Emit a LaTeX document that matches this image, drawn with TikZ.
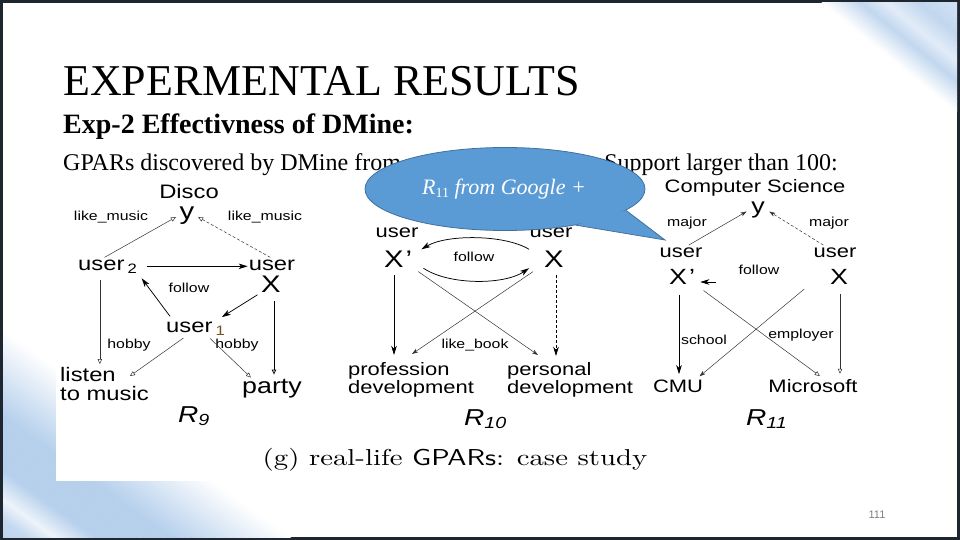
\documentclass[tikz,border=0pt]{standalone}
\usepackage{fontspec}
\setmainfont{Liberation Serif}
\newfontfamily\diag[FakeStretch=1.22]{Liberation Sans}
\newfontfamily\capfont[FakeStretch=1.25]{lmroman10-regular.otf}
\newfontfamily\capsans[FakeStretch=1.25]{lmsans10-regular.otf}
\newfontfamily\pgfont{Liberation Sans}
\usetikzlibrary{arrows.meta,calc,shapes.geometric}
\definecolor{framec}{RGB}{30,38,48}
\definecolor{sbl}{RGB}{182,208,236}
\colorlet{sbA}{white!60!sbl}
\colorlet{sbB}{white!45!sbl}
\colorlet{sbC}{sbl!80!white}
\colorlet{sbD}{white!75!sbl}
\colorlet{sbE}{white!50!sbl}
\colorlet{sbT}{sbl!85!white}
\definecolor{cfill}{RGB}{91,155,213}
\definecolor{cborder}{RGB}{65,113,156}
\definecolor{pgnum}{RGB}{128,128,128}
\definecolor{subbrown}{RGB}{120,80,40}
\tikzset{
  nm/.style={font=\diag\fontsize{19.5}{19.5}\selectfont, inner sep=1pt},
  nmb/.style={font=\diag\fontsize{18}{18}\selectfont, inner sep=1pt},
  vr/.style={font=\diag\fontsize{24}{24}\selectfont, inner sep=1pt},
  vrs/.style={font=\diag\fontsize{22}{22}\selectfont, inner sep=1pt},
  el/.style={font=\diag\fontsize{13}{13}\selectfont, inner sep=1pt},
  rl/.style={font=\diag\itshape\fontsize{23}{23}\selectfont, inner sep=1pt},
  ln/.style={draw=black!80, line width=0.5pt},
  lnb/.style={draw=black, line width=0.75pt},
  dsh/.style={dash pattern=on 3pt off 2pt},
  ot/.style={-{Triangle[open,length=5pt,width=4.5pt]}},
  ft/.style={-{Stealth[length=9pt,width=5.5pt,inset=2.5pt]}},
  fts/.style={-{Stealth[length=6pt,width=4pt,inset=1.5pt]}},
  slide/.style={inner sep=0pt, text=black},
}
\begin{document}
\begin{tikzpicture}[x=1pt,y=-1pt]
\useasboundingbox (0,0) rectangle (960,540);
% frame and slide
\fill[framec] (0,0) rectangle (960,540);
\fill[white] (3,3) rectangle (957,537);
\begin{scope}
\clip (3,3) rectangle (957,537);
% top-right streaks (stripes across the diagonal)
\foreach \ta/\tb/\ca/\cb in {12/36/white/sbT, 36/52/sbT/sbA, 52/72/sbA/sbT, 72/104/sbT/sbB}{
  \pgfmathtruncatemacro\nn{(\tb-\ta)/2}
  \foreach \k in {1,...,\nn}{
    \pgfmathsetmacro\sx{\ta+2*(\k-1)}
    \pgfmathsetmacro\pp{100*(\k-0.5)/\nn}
    \fill[\cb!\pp!\ca] ({880+0.629*\sx-194.25},{65-0.777*\sx-157.25})
      -- ({880+0.629*\sx+194.25},{65-0.777*\sx+157.25})
      -- ({880+0.629*(\sx+2.3)+194.25},{65-0.777*(\sx+2.3)+157.25})
      -- ({880+0.629*(\sx+2.3)-194.25},{65-0.777*(\sx+2.3)-157.25}) -- cycle;
  }
}
% bottom-left streaks
\foreach \ta/\tb/\ca/\cb in {0/34/white/sbE, 34/70/sbE/sbl, 70/114/sbl/sbl, 114/138/sbl/sbD, 138/154/sbD/sbC, 154/184/sbC/sbl}{
  \pgfmathtruncatemacro\nn{(\tb-\ta)/2}
  \foreach \k in {1,...,\nn}{
    \pgfmathsetmacro\sx{\ta+2*(\k-1)}
    \pgfmathsetmacro\pp{100*(\k-0.5)/\nn}
    \fill[\cb!\pp!\ca] ({146.5-0.585*\sx-243.3},{433.5+0.811*\sx-175.5})
      -- ({146.5-0.585*\sx+243.3},{433.5+0.811*\sx+175.5})
      -- ({146.5-0.585*(\sx+2.3)+243.3},{433.5+0.811*(\sx+2.3)+175.5})
      -- ({146.5-0.585*(\sx+2.3)-243.3},{433.5+0.811*(\sx+2.3)-175.5}) -- cycle;
  }
}
\end{scope}
% embedded figure area
\fill[white] (56,172) rectangle (872,481);

% slide texts
\node[slide, anchor=base west, font=\fontsize{44}{44}\selectfont] (title) at (63,96) {EXPERMENTAL RESULTS};
\node[slide, anchor=base west, font=\bfseries\fontsize{28}{28}\selectfont] (sub) at (63,134) {Exp-2 Effectivness of DMine:};
\node[slide, anchor=base west, font=\fontsize{24}{24}\selectfont] (l3a) at (63,171) {GPARs discovered by DMine from};
\node[slide, anchor=base east, font=\fontsize{24}{24}\selectfont] (l3b) at (838,171) {Support larger than 100:};

% ---------- R9 ----------
\node[nm, anchor=base] (disco) at (189,198) {Disco};
\node[vr, anchor=base] (y9) at (187,219.5) {y};
\node[el] (lm1) at (111,217) {like\_music};
\node[el] (lm2) at (265,217) {like\_music};
\node[nm, anchor=base west] (u2) at (77,270) {user\,\textsubscript{2}};
\node[nm, anchor=base] (x9u) at (272,270) {user};
\node[vr, anchor=base] (x9) at (271,292) {X};
\node[el] (fo9) at (189,288) {follow};
\node[nm, anchor=base west] (u1) at (165,332) {user\,\textsubscript{\color{subbrown}1}};
\node[el] (hb1) at (129,345) {hobby};
\node[el] (hb2) at (237,345) {hobby};
\node[nm, align=left, anchor=north west, font=\diag\fontsize{19.5}{19}\selectfont] (listen) at (59,366) {listen\\to music};
\node[nm, anchor=base, font=\diag\fontsize{22}{22}\selectfont] (party) at (272,393) {party};
\node[rl, anchor=base west] (r9) at (177,422) {R\textsubscript{9}};

\draw[ln,ot,shorten <=2pt,shorten >=3pt] ([xshift=-5pt]u2.north) -- (y9.west);
\draw[ln,dsh,ot,shorten <=2pt,shorten >=3pt] (x9u.north) -- (y9.east);
\draw[lnb,ft,shorten <=8pt] (u2.east) -- (u2.east -| x9u.west);
\draw[lnb,ft,shorten <=5pt,shorten >=5pt] ([xshift=8pt]u1.north west) -- (u2.south east);
\draw[lnb,ft,shorten <=3pt,shorten >=6pt] (x9.south west) -- ([xshift=-10pt]u1.north east);
\draw[ln,ot,shorten <=3pt] ([xshift=-10pt]u1.south) -- ([xshift=-20pt,yshift=-10pt]listen.north east);
\draw[ln,ot,shorten <=3pt] ([xshift=12pt]u1.south) -- ([xshift=10pt]party.north west);
\draw[ln,ot,shorten <=6pt,shorten >=2pt] ([xshift=-8pt]u2.south) -- ([xshift=-8pt]u2.south |- listen.north);
\draw[lnb,ot,shorten <=8pt,shorten >=3pt] ([xshift=3pt]x9.south) -- ([xshift=3pt]x9.south |- party.north);

% ---------- R10 ----------
\node[nmb, anchor=base] (xp10u) at (397,237) {user};
\node[vr, anchor=base west] (xp10) at (383,267) {X\hspace{2pt}’};
\node[nmb, anchor=base] (x10u) at (551,237) {user};
\node[vr, anchor=base] (x10) at (554,267) {X};
\node[el] (fo10) at (474,257) {follow};
\node[el] (lb) at (475,345) {like\_book};
\node[nmb, align=left, anchor=north west, font=\diag\fontsize{18}{15}\selectfont] (prof) at (347,361) {profession\\development};
\node[nmb, align=left, anchor=north west, font=\diag\fontsize{18}{15}\selectfont] (pers) at (506,361) {personal\\development};
\node[rl, anchor=base west] (r10) at (463,425) {R\textsubscript{10}};

\draw[lnb,ft] ([xshift=-14pt]x10.north west) .. controls +(-25,-15) and +(25,-15) .. ([xshift=8pt]xp10.north east);
\draw[lnb,ft] ([xshift=10pt]xp10.south east) .. controls +(25,17) and +(-25,17) .. ([xshift=-14pt]x10.south west);
\draw[lnb,ft,shorten <=7pt,shorten >=6pt] ([xshift=11pt]xp10.south west) -- ([xshift=11pt]xp10.south west |- prof.north);
\draw[ln,fts,shorten <=6pt] (xp10.south east) -- ([xshift=32pt,yshift=6pt]pers.north west);
\draw[ln,fts,shorten <=6pt] ([xshift=-5pt]x10.south west) -- ([xshift=65pt,yshift=7pt]prof.north west);
\draw[lnb,dsh,ft,shorten <=7pt,shorten >=5pt] ([xshift=2pt]x10.south) -- ([xshift=2pt]x10.south |- pers.north);

% ---------- R11 ----------
\node[nmb, anchor=base] (cs) at (755,192) {Computer Science};
\node[vrs, anchor=base] (y11) at (758,213) {y};
\node[el] (mj1) at (687,223) {major};
\node[el] (mj2) at (829,223) {major};
\node[nmb, anchor=base] (xp11u) at (681,257) {user};
\node[vrs, anchor=base west] (xp11) at (668,284) {X\hspace{2pt}’};
\node[nmb, anchor=base] (x11u) at (835,257) {user};
\node[vrs, anchor=base] (x11) at (839,284) {X};
\node[el] (fo11) at (759,270) {follow};
\node[el] (sch) at (704,340) {school};
\node[el] (emp) at (801,335) {employer};
\node[nmb, anchor=base] (cmu) at (678,392) {CMU};
\node[nmb, anchor=base] (ms) at (813,392) {Microsoft};
\node[rl, anchor=base west] (r11) at (745,425) {R\textsubscript{11}};

\draw[ln,fts,shorten <=2pt,shorten >=4pt] ([xshift=6pt]xp11u.north) -- (y11.west);
\draw[ln,dsh,fts,shorten <=2pt,shorten >=4pt] ([xshift=-10pt]x11u.north) -- (y11.east);
\coordinate (fs) at (716,282);
\draw[lnb,ft] (fs) -- ([xshift=4pt]fs -| xp11.east);
\draw[lnb,ft,shorten <=10pt,shorten >=4pt] ([xshift=11pt]xp11.south west) -- ([xshift=11pt]xp11.south west |- cmu.north);
\draw[ln,fts,shorten <=6pt,shorten >=3pt] ([xshift=-20pt]x11.south west) -- ([xshift=-7pt]cmu.north east);
\draw[ln,ot,shorten <=9pt,shorten >=3pt] (xp11.south east) -- ([xshift=55pt]ms.north west);
\draw[ln,ot,shorten <=9pt,shorten >=4pt] ([xshift=1pt]x11.south) -- ([xshift=1pt]x11.south |- ms.north);

% caption and page number
\node[inner sep=0pt, anchor=base, font=\capfont\fontsize{23}{23}\selectfont] (cap) at (455,465) {(g) real-life {\capsans GPARs}: case study};
\node[inner sep=0pt, anchor=base, font=\pgfont\fontsize{11}{11}\selectfont, text=pgnum] (pg) at (877,518) {111};

% ---------- callout ----------
\coordinate (tip) at (665,240);
\node[ellipse, fill=cfill, draw=cborder, line width=0.8pt, minimum width=280pt, minimum height=83pt, inner sep=0pt] (co) at (505,189) {};
\fill[cfill] (co.-10) -- (tip) -- (co.-27) -- cycle;
\draw[cborder, line width=0.8pt, line join=miter] (co.-10) -- (tip) -- (co.-27);
\node[inner sep=0pt, text=white, font=\itshape\fontsize{22}{22}\selectfont] (cotext) at (504,189) {R{\upshape\fontsize{14}{14}\selectfont\raisebox{-3pt}{11}} from Google +};
\end{tikzpicture}
\end{document}
